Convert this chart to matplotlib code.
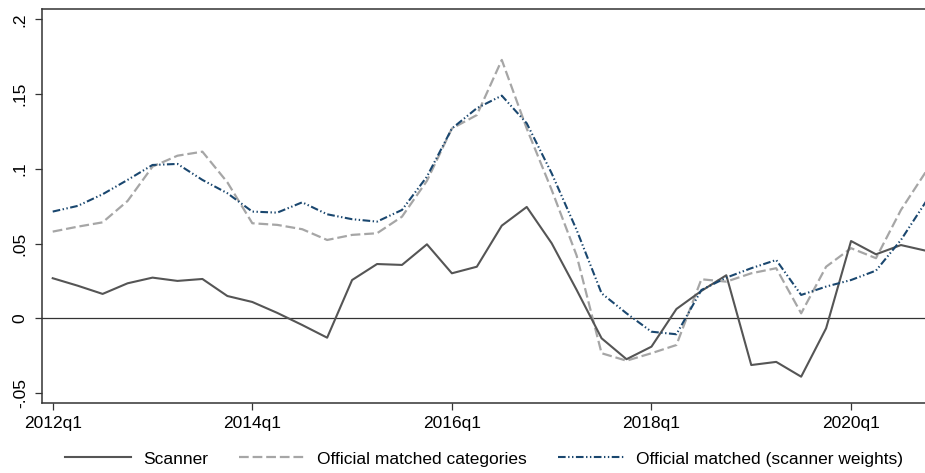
import matplotlib
matplotlib.use("Agg")
import matplotlib.pyplot as plt
import numpy as np

plt.rcParams["font.family"] = ["Liberation Sans", "DejaVu Sans"]
plt.rcParams["lines.scale_dashes"] = False

# quarterly inflation rates, 2012q1 - 2020q4
quarters = [f"{y}q{q}" for y in range(2012, 2021) for q in range(1, 5)]

scanner = [0.0268, 0.0218, 0.0163, 0.0234, 0.0272, 0.0250, 0.0263, 0.0149, 0.0109,
           0.0036, -0.0045, -0.0130, 0.0256, 0.0363, 0.0357, 0.0495, 0.0301, 0.0345,
           0.0620, 0.0745, 0.0502, 0.0190, -0.0134, -0.0274, -0.0190, 0.0062, 0.0183,
           0.0288, -0.0313, -0.0292, -0.0391, -0.0067, 0.0517, 0.0428, 0.0490, 0.0452]

official_cat = [0.0580, 0.0613, 0.0642, 0.0785, 0.1015, 0.1088, 0.1115, 0.0910, 0.0636,
                0.0625, 0.0596, 0.0524, 0.0558, 0.0569, 0.0680, 0.0920, 0.1270, 0.1360,
                0.1729, 0.1270, 0.0859, 0.0420, -0.0234, -0.0284, -0.0234, -0.0179, 0.0261,
                0.0245, 0.0301, 0.0335, 0.0033, 0.0345, 0.0469, 0.0402, 0.0725, 0.0981]

official_sw = [0.0714, 0.0752, 0.0830, 0.0926, 0.1026, 0.1033, 0.0926, 0.0837, 0.0714,
               0.0707, 0.0776, 0.0696, 0.0663, 0.0647, 0.0725, 0.0948, 0.1270, 0.1406,
               0.1490, 0.1305, 0.0970, 0.0591, 0.0167, 0.0033, -0.0090, -0.0107, 0.0189,
               0.0272, 0.0335, 0.0390, 0.0156, 0.0212, 0.0256, 0.0319, 0.0524, 0.0780]

yticks = [-0.05, 0, 0.05, 0.1, 0.15, 0.2]
ytick_labels = ["-.05", "0", ".05", ".1", ".15", ".2"]
xtick_labels = ["2012q1", "2014q1", "2016q1", "2018q1", "2020q1"]

FRAME = "#333333"
x = np.arange(len(quarters))

fig = plt.figure(figsize=(9.25, 4.73), dpi=100)
ax = fig.add_axes([0.0451, 0.1474, 0.9549, 0.8336])

ax.axhline(0, color=FRAME, lw=0.9, zorder=1)
ax.plot(x, scanner, color="#555555", lw=1.5, label="Scanner", zorder=3)
ax.plot(x, official_cat, color="#a6a6a6", lw=1.6, dashes=(7.0, 2.8),
        label="Official matched categories", zorder=2)
ax.plot(x, official_sw, color="#1a476f", lw=1.5,
        dashes=(5.5, 1.8, 1.0, 1.8, 1.0, 1.8),
        label="Official matched (scanner weights)", zorder=4)

ax.set_xlim(-0.441, 34.964)
ax.set_ylim(-0.0569, 0.207)

ax.set_xticks([quarters.index(t) for t in xtick_labels])
ax.set_xticklabels(xtick_labels)
ax.set_yticks(yticks)
ax.set_yticklabels(ytick_labels, rotation=90, va="center")

ax.tick_params(axis="both", labelsize=12.5, color=FRAME, length=5, width=0.9)
ax.tick_params(axis="x", pad=4)
ax.tick_params(axis="y", pad=5)
for side in ("left", "top", "bottom"):
    ax.spines[side].set_color(FRAME)
    ax.spines[side].set_linewidth(1.1)
ax.spines["right"].set_visible(False)

fig.legend(loc="center", bbox_to_anchor=(484 / 925, 1 - 459 / 473), ncol=3,
           frameon=False, fontsize=12.5, handlelength=3.8, handletextpad=0.7,
           columnspacing=1.8)

fig.savefig("out.png", dpi=100)
